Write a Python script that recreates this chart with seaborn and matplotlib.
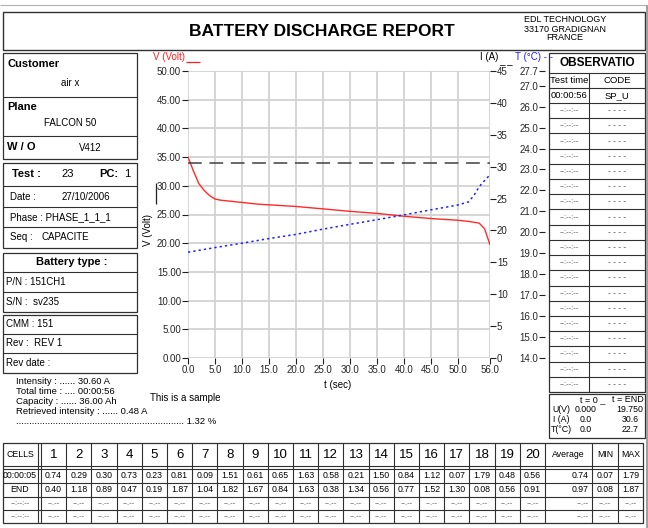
import matplotlib
matplotlib.use("Agg")
import matplotlib.pyplot as plt
from matplotlib.patches import Rectangle
import pandas as pd
import seaborn as sns

# ---------------- data ----------------
t_volt = [0, 1, 2, 3, 4, 5, 6, 8, 10, 13, 20, 26, 30, 35, 40, 45, 50, 52, 54, 55, 56]
volt = [35.0, 32.6, 30.4, 29.2, 28.3, 27.7, 27.5, 27.3, 27.1, 26.8, 26.4, 25.9,
        25.55, 25.2, 24.7, 24.3, 24.0, 23.8, 23.5, 22.5, 19.75]
t_temp = [0, 5, 10, 15, 20, 25, 30, 35, 40, 45, 50, 52, 53, 54, 55, 56]
temp = [19.05, 19.27, 19.48, 19.7, 19.9, 20.15, 20.38, 20.6, 20.83, 21.07, 21.3,
        21.45, 21.75, 22.18, 22.47, 22.75]
t_curr = [0, 56]
curr = [30.6, 30.6]

x_ticks = [0, 5, 10, 15, 20, 25, 30, 35, 40, 45, 50, 56]
v_ticks = [0, 5, 10, 15, 20, 25, 30, 35, 40, 45, 50]
i_ticks = [0, 5, 10, 15, 20, 25, 30, 35, 40, 45]
t_ticks = [14.0, 15.0, 16.0, 17.0, 18.0, 19.0, 20.0, 21.0, 22.0, 23.0, 24.0, 25.0, 26.0, 27.0, 27.7]

cells = [str(i) for i in range(1, 21)]
row_start = [0.74, 0.29, 0.30, 0.73, 0.23, 0.81, 0.09, 1.51, 0.61, 0.65,
             1.63, 0.58, 0.21, 1.50, 0.84, 1.12, 0.07, 1.79, 0.48, 0.56]
row_end = [0.40, 1.18, 0.89, 0.47, 0.19, 1.87, 1.04, 1.82, 1.67, 0.84,
           1.63, 0.38, 1.34, 0.56, 0.77, 1.52, 1.30, 0.08, 0.56, 0.91]
stats_start = [0.74, 0.07, 1.79]
stats_end = [0.97, 0.08, 1.87]

left_info = [
    "Intensity : ...... 30.60 A",
    "Total time : .... 00:00:56",
    "Capacity : ...... 36.00 Ah",
    "Retrieved intensity : ...... 0.48 A",
]

# ---------------- setup ----------------
sns.set_theme(style="white")
NARROW = ["Liberation Sans Narrow", "Liberation Sans", "DejaVu Sans"]
BOLD = ["Liberation Sans", "DejaVu Sans"]
plt.rcParams["font.family"] = NARROW

W, H = 648, 528
fig = plt.figure(figsize=(W / 100, H / 100), dpi=100)
fig.patch.set_facecolor("white")
bg = fig.add_axes([0, 0, 1, 1])
bg.set_xlim(0, W)
bg.set_ylim(H, 0)
bg.axis("off")

LC = "#303030"


def box(x0, y0, x1, y1, lw=0.9, color=LC):
    bg.add_patch(Rectangle((x0, y0), x1 - x0, y1 - y0, fill=False, lw=lw, ec=color))


def hl(y, x0, x1, lw=0.8, color=LC):
    bg.plot([x0, x1], [y, y], color=color, lw=lw, solid_capstyle="butt")


def vl(x, y0, y1, lw=0.8, color=LC):
    bg.plot([x, x], [y0, y1], color=color, lw=lw, solid_capstyle="butt")


def tx(x, y, s, size=7, ha="left", weight="normal", color="black", fam=None, **kw):
    bg.text(x, y, s, fontsize=size, ha=ha, va="center", fontweight=weight,
            color=color, family=fam if fam else NARROW, **kw)


# ---------------- header ----------------
hl(5, 0, W, lw=0.8, color="#b0b0b0")
box(3, 12, 645, 50, lw=1.0)
vl(647, 5, 528, lw=1.5, color="#a0a0a0")
tx(322, 32, "BATTERY DISCHARGE REPORT", size=12.5, ha="center", weight="bold", fam=BOLD)
tx(565, 20, "EDL TECHNOLOGY", size=6.5, ha="center")
tx(565, 29, "33170 GRADIGNAN", size=6.5, ha="center")
tx(565, 38, "FRANCE", size=6.5, ha="center")

# ---------------- left panel ----------------
L, R = 3, 137
box(L, 53, R, 159)
hl(97, L, R)
hl(136, L, R)
tx(7, 64, "Customer", size=8, weight="bold", fam=BOLD)
tx(70, 83, "air x", ha="center")
tx(7, 107, "Plane", size=8, weight="bold", fam=BOLD)
tx(70, 123, "FALCON 50", ha="center")
tx(7, 147, "W / O", size=8, weight="bold", fam=BOLD)
tx(90, 148, "V412", ha="center")

box(L, 163, R, 248)
for y in (186, 207, 227):
    hl(y, L, R)
tx(12, 174, "Test :", size=8, weight="bold", fam=BOLD)
tx(68, 174, "23", size=8, ha="center")
tx(99, 174, "PC:", size=8, weight="bold", fam=BOLD)
tx(124, 174, "1", size=8)
tx(10, 197, "Date :")
tx(62, 197, "27/10/2006")
tx(10, 217, "Phase : PHASE_1_1_1")
tx(10, 237, "Seq :")
tx(42, 237, "CAPACITE")

box(L, 253, R, 312)
hl(272, L, R)
hl(292, L, R)
tx(72, 262, "Battery type :", size=8, ha="center", weight="bold", fam=BOLD)
tx(6, 282, "P/N : 151CH1")
tx(6, 302, "S/N :  sv235")

box(L, 315, R, 373)
hl(334, L, R)
hl(353, L, R)
tx(6, 324, "CMM : 151")
tx(6, 343, "Rev :  REV 1")
tx(6, 363, "Rev date :")

for i, s in enumerate(left_info):
    tx(16, 381 + i * 10.3, s, size=6.8)
tx(16, 422, "." * 64 + " 1.32 %", size=6.8)

tx(150, 398, "This is a sample", size=7)

# ---------------- chart ----------------
AX_L, AX_R, AX_T, AX_B = 188, 490, 71, 358
ax = fig.add_axes([AX_L / W, 1 - AX_B / H, (AX_R - AX_L) / W, (AX_B - AX_T) / H])
ax.set_facecolor("none")

df_v = pd.DataFrame({"t": t_volt, "V": volt})
df_t = pd.DataFrame({"t": t_temp, "T": temp})
df_i = pd.DataFrame({"t": t_curr, "I": curr})

sns.lineplot(data=df_v, x="t", y="V", ax=ax, color="#ff2a2a", lw=1.0,
             estimator=None, sort=False)
ax.set_xlim(0, 56)
ax.set_ylim(0, 50)
ax.set_xticks(x_ticks)
ax.set_xticklabels([f"{v:.1f}" for v in x_ticks])
ax.set_yticks(v_ticks)
ax.set_yticklabels([f"{v:.2f}" for v in v_ticks])
ax.grid(True, color="#d2d2d2", lw=1.3)
ax.set_axisbelow(True)
for sp in ax.spines.values():
    sp.set_visible(False)
ax.tick_params(axis="both", which="both", direction="out", length=4, width=0.8,
               color="#202020", labelsize=7, pad=1, left=True, bottom=True)
ax.set_xlabel("")
ax.set_ylabel("")

ax_i = ax.twinx()
sns.lineplot(data=df_i, x="t", y="I", ax=ax_i, color="#404040", lw=1.1,
             estimator=None, sort=False)
ax_i.lines[0].set_dashes((9, 5))
ax_i.set_ylim(0, 45)
ax_i.set_yticks(i_ticks)
ax_i.set_yticklabels([str(v) for v in i_ticks])
ax_i.grid(False)
for sp in ax_i.spines.values():
    sp.set_visible(False)
ax_i.tick_params(axis="y", direction="out", length=4, width=0.8, color="#202020",
                 labelsize=7, pad=1, right=True)
ax_i.set_ylabel("")
ax_i.set_xlabel("")

ax_t = ax.twinx()
sns.lineplot(data=df_t, x="t", y="T", ax=ax_t, color="#2020ff", lw=1.1,
             estimator=None, sort=False)
ax_t.lines[0].set_dashes((1.5, 2))
ax_t.set_ylim(14.09, 27.7)
ax_t.yaxis.set_ticks_position("left")
ax_t.yaxis.set_label_position("left")
ax_t.spines["left"].set_position(("axes", (545 - AX_L) / (AX_R - AX_L)))
ax_t.grid(False)
for sp in ax_t.spines.values():
    sp.set_visible(False)
ax_t.set_yticks(t_ticks)
ax_t.set_yticklabels([f"{v:.1f}" for v in t_ticks])
ax_t.tick_params(axis="y", direction="out", length=4, width=0.8, color="#202020",
                 labelsize=7, pad=1, left=True, right=False)
ax_t.set_ylabel("")
ax_t.set_xlabel("")
ax_t.set_xlim(0, 56)
ax_i.set_xlim(0, 56)

# axis titles / legend-like labels
tx(153, 57, "V (Volt)", size=7, color="#ff2020")
hl(62, 186, 200, lw=0.9, color="#ff2020")
tx(480, 57, "I (A)", size=7)
tx(499, 60, "_ _", size=7)
tx(515, 57, "T (°C) - -", size=7, color="#2020ff")
vl(156, 183, 204, lw=0.9, color="#202020")
tx(148, 230, "V (Volt)", size=7, ha="center", rotation=90)
tx(338, 385, "t (sec)", size=7, ha="center")

# ---------------- observation table ----------------
OX0, OX1, OXM = 549, 645, 589
box(OX0, 53, OX1, 392)
hl(73, OX0, OX1)
tx((OX0 + OX1) / 2, 63, "OBSERVATIO", size=8.5, ha="center", weight="bold", fam=BOLD)
vl(OXM, 73, 392)
hl(88, OX0, OX1)
tx((OX0 + OXM) / 2, 80.5, "Test time", size=6.8, ha="center")
tx((OXM + OX1) / 2, 80.5, "CODE", size=6.8, ha="center")
hl(103, OX0, OX1)
tx((OX0 + OXM) / 2, 95.5, "00:00:56", size=6.8, ha="center")
tx((OXM + OX1) / 2, 95.5, "SP_U", size=6.8, ha="center")
n_rows = 19
rh = (392 - 103) / n_rows
for k in range(n_rows):
    y0 = 103 + k * rh
    if k > 0:
        hl(y0, OX0, OX1)
    tx((OX0 + OXM) / 2, y0 + rh / 2, "--:--:--", size=5.5, ha="center", color="#555555")
    tx((OXM + OX1) / 2, y0 + rh / 2, "- - - -", size=6, ha="center", color="#333333")

box(OX0, 394, OX1, 438)
tx(593, 400, "t = 0 _", size=6.5, ha="center")
tx(628, 400, "t = END", size=6.5, ha="center")
for j, (lab, a, b) in enumerate([("U(V)", "0.000", "19.750"),
                                 ("I (A)", "0.0", "30.6"),
                                 ("T(°C)", "0.0", "22.7")]):
    y = 410 + j * 9.5
    tx(561, y, lab, size=6.3, ha="center")
    tx(586, y, a, size=6.3, ha="center")
    tx(630, y, b, size=6.3, ha="center")

# ---------------- bottom table ----------------
TX0, TX1 = 3, 643
TY = [443, 466, 469, 483, 497, 510, 523]
C0 = 41
CW = (545 - C0) / 20
AV0, MN0, MX0 = 545, 592, 618
box(TX0, TY[0], TX1, TY[-1])
hl(TY[1], TX0, TX1)
hl(TY[2], TX0, TX1)
for y in TY[3:-1]:
    hl(y, TX0, TX1)
vl(38, TY[0], TY[-1])
vl(C0, TY[0], TY[-1])
for k in range(1, 20):
    vl(C0 + k * CW, TY[0], TY[-1])
for x in (AV0, MN0, MX0):
    vl(x, TY[0], TY[-1])

hy = (TY[0] + TY[1]) / 2
tx(20, hy, "CELLS", size=6.3, ha="center")
for k, c in enumerate(cells):
    tx(C0 + (k + 0.5) * CW, hy + 0.5, c, size=9.5, ha="center", fam=BOLD)
tx((AV0 + MN0) / 2, hy, "Average", size=6.3, ha="center")
tx((MN0 + MX0) / 2, hy, "MIN", size=6.3, ha="center")
tx((MX0 + TX1) / 2, hy, "MAX", size=6.3, ha="center")

rows = [("00:00:05", row_start, stats_start), ("END", row_end, stats_end)]
for r, (lab, vals, st) in enumerate(rows):
    yc = (TY[2 + r] + TY[3 + r]) / 2
    tx(20, yc, lab, size=6.3, ha="center")
    for k, v in enumerate(vals):
        tx(C0 + (k + 0.5) * CW, yc, f"{v:.2f}", size=6.3, ha="center")
    tx(MN0 - 3, yc, f"{st[0]:.2f}", size=6.3, ha="right")
    tx((MN0 + MX0) / 2, yc, f"{st[1]:.2f}", size=6.3, ha="center")
    tx((MX0 + TX1) / 2, yc, f"{st[2]:.2f}", size=6.3, ha="center")
for r in range(2):
    yc = (TY[4 + r] + TY[5 + r]) / 2
    tx(20, yc, "--:--:--", size=5.5, ha="center", color="#555555")
    for k in range(20):
        tx(C0 + (k + 0.5) * CW, yc, "--.--", size=5.5, ha="center", color="#555555")
    tx(MN0 - 3, yc, "--.--", size=5.5, ha="right", color="#555555")
    tx((MN0 + MX0) / 2, yc, "--.--", size=5.5, ha="center", color="#555555")
    tx((MX0 + TX1) / 2, yc, "--.--", size=5.5, ha="center", color="#555555")

fig.savefig("out.png", dpi=100, facecolor="white")
